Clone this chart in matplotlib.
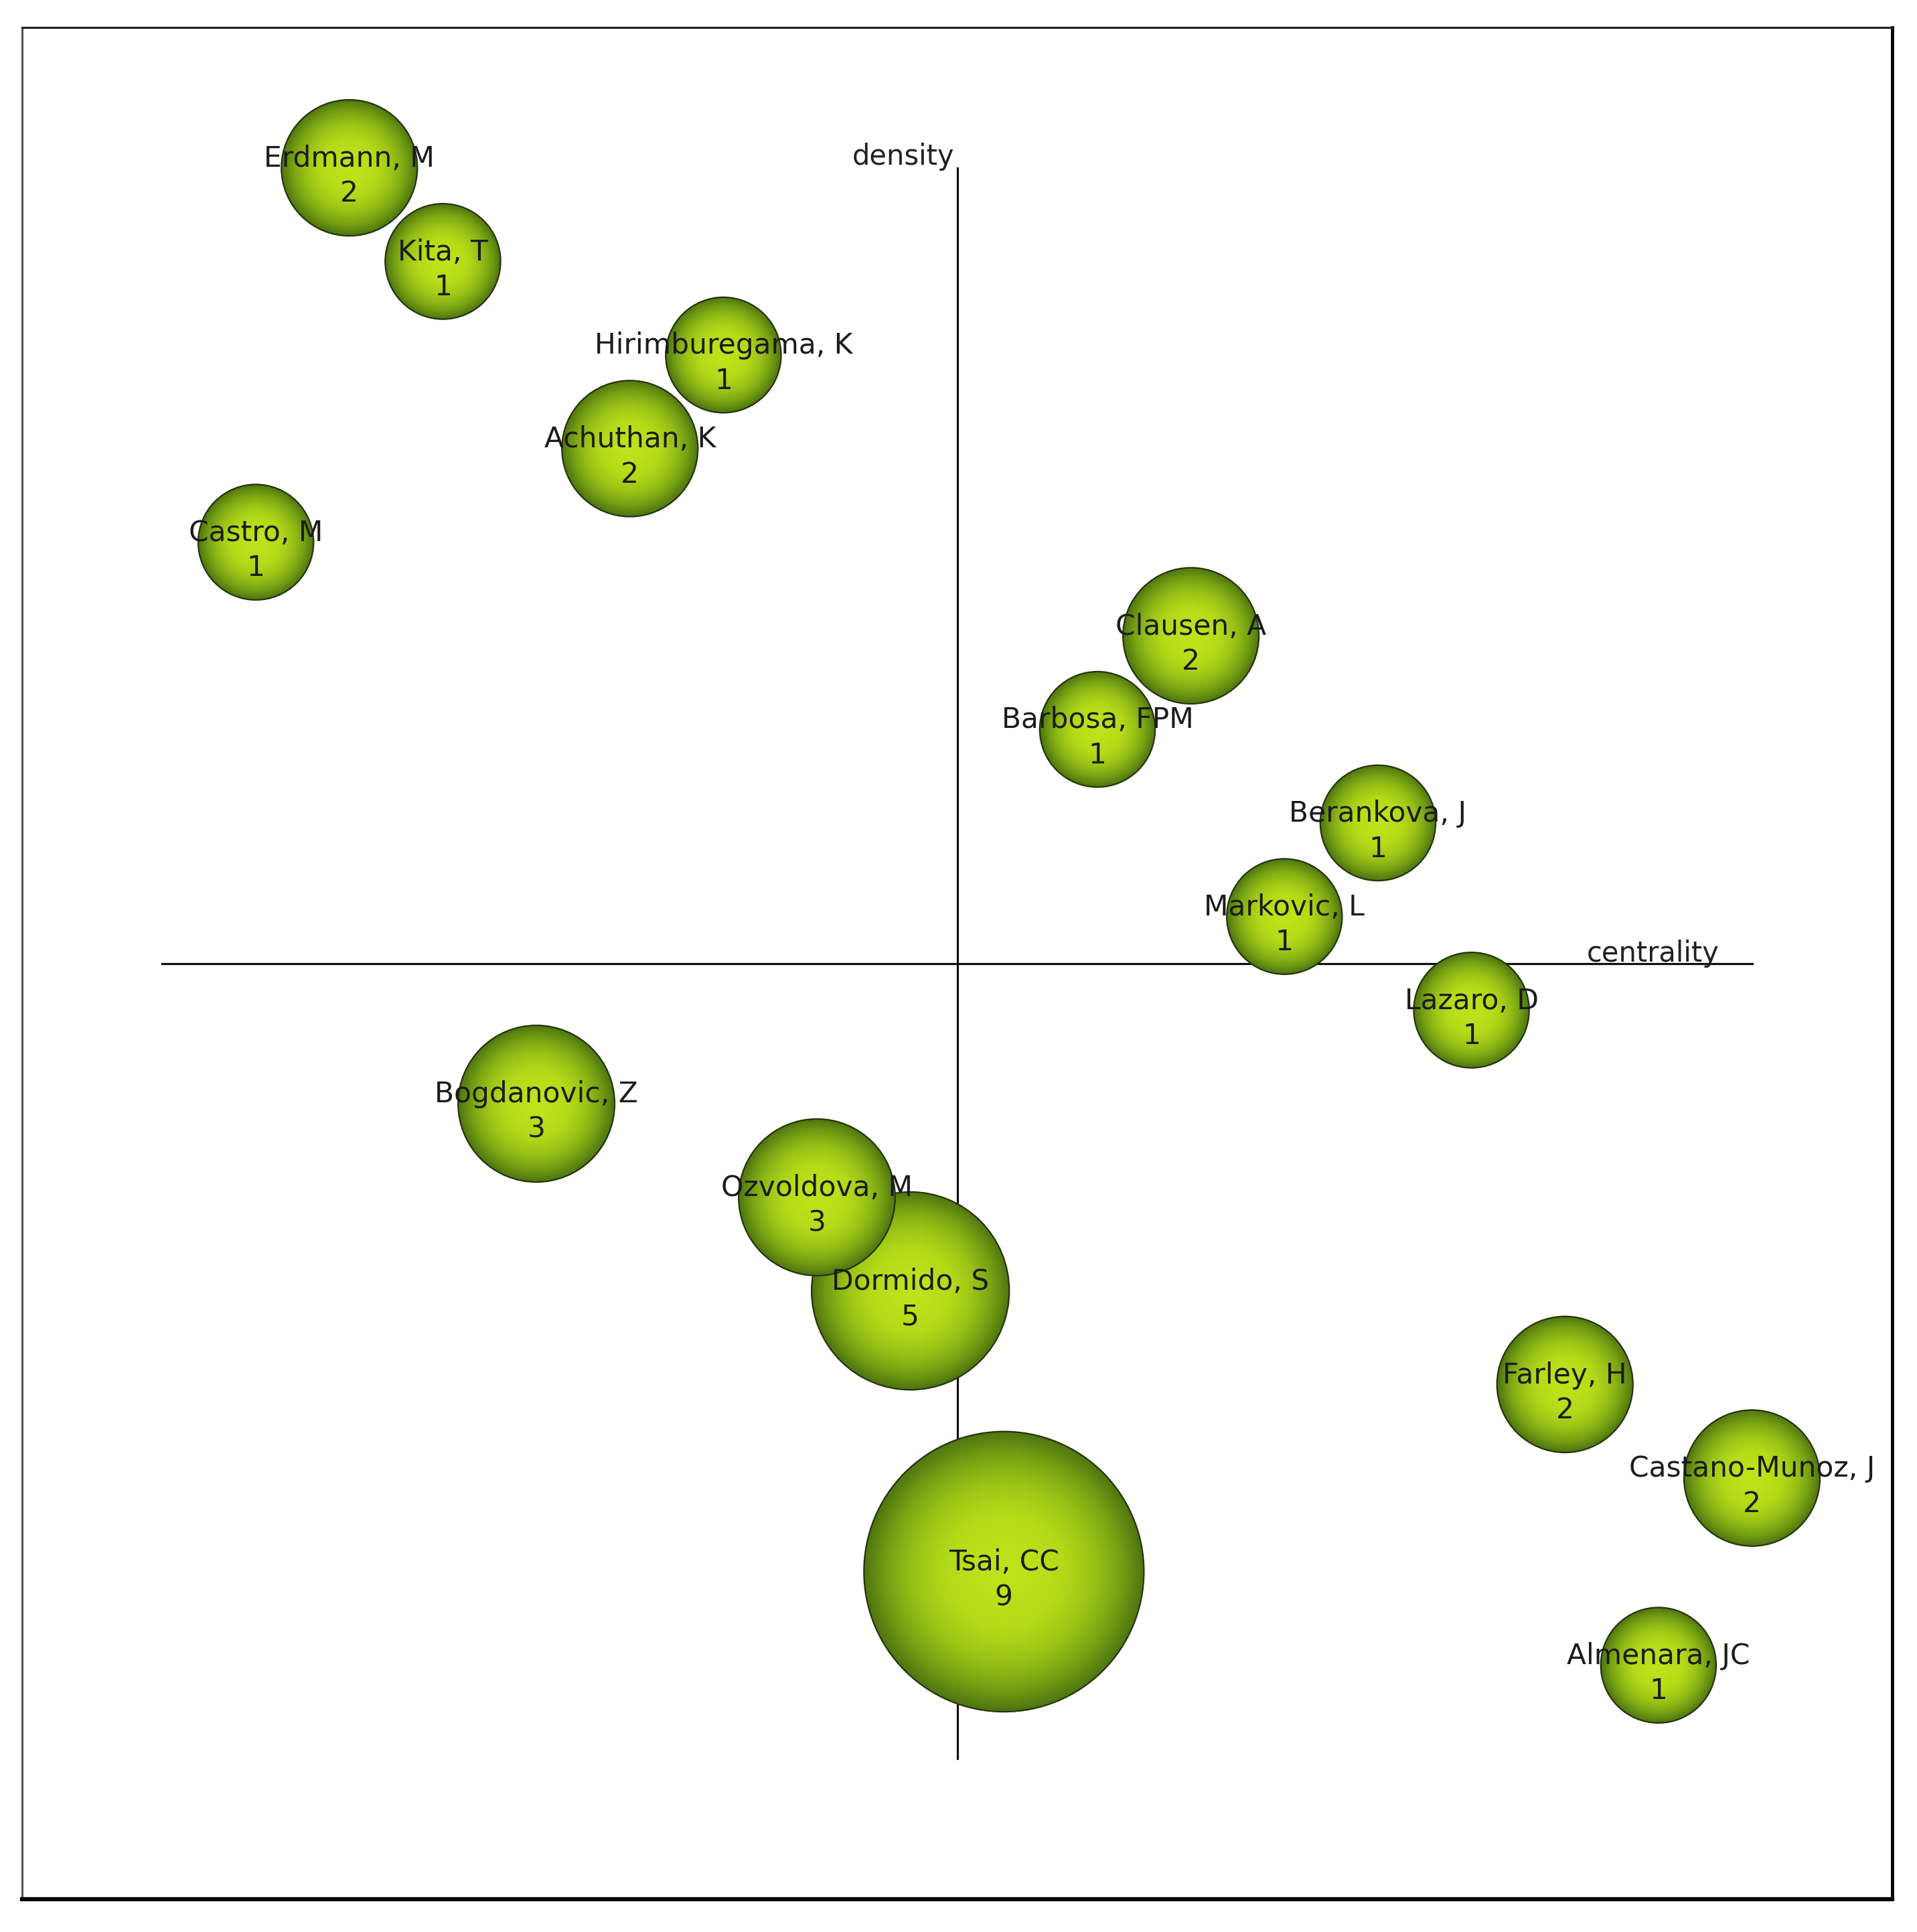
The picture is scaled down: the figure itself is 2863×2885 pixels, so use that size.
import numpy as np
import matplotlib.pyplot as plt
from matplotlib.patches import Circle
from matplotlib.colors import LinearSegmentedColormap

# author map: rank along centrality / density, number of documents
names = ["Erdmann, M", "Kita, T", "Hirimburegama, K", "Achuthan, K", "Castro, M",
         "Clausen, A", "Barbosa, FPM", "Berankova, J", "Markovic, L", "Lazaro, D",
         "Bogdanovic, Z", "Ozvoldova, M", "Dormido, S", "Farley, H",
         "Castano-Munoz, J", "Tsai, CC", "Almenara, JC"]
counts = [2, 1, 1, 2, 1, 2, 1, 1, 1, 1, 3, 3, 5, 2, 2, 9, 1]
centrality = [2, 3, 6, 5, 1, 11, 10, 13, 12, 14, 4, 7, 8, 15, 17, 9, 16]
density = [17, 16, 15, 14, 13, 12, 11, 10, 9, 8, 7, 6, 5, 4, 3, 2, 1]

fig = plt.figure(figsize=(28.63, 28.85), dpi=100)
ax = fig.add_axes([33/2863, 1-2836/2885, (2826-33)/2863, (2836-41)/2885])
ax.set_xlim(-1.5, 18.5)
ax.set_ylim(-1.5, 18.5)
ax.set_xticks([])
ax.set_yticks([])

ax.spines['top'].set_linewidth(2.2)
ax.spines['top'].set_color('#202020')
ax.spines['left'].set_linewidth(2.2)
ax.spines['left'].set_color('#555555')
ax.spines['right'].set_linewidth(3.5)
ax.spines['right'].set_color('#000000')
ax.spines['bottom'].set_linewidth(4.5)
ax.spines['bottom'].set_color('#000000')

# quadrant axes
ax.plot([0, 17], [8.5, 8.5], color='#111111', lw=2.3, zorder=1)
ax.plot([8.5, 8.5], [0, 17], color='#111111', lw=2.3, zorder=1)
ax.text(8.47, 17.03, "density", ha='right', va='baseline', fontsize=30, color='#222222')
ax.text(16.65, 8.52, "centrality", ha='right', va='baseline', fontsize=30, color='#222222')

cmap = LinearSegmentedColormap.from_list(
    "ball", ["#bfe31a", "#b3da18", "#98c116", "#76a013", "#4e7510"])
g = np.linspace(-1, 1, 300)
gx, gy = np.meshgrid(g, g)
grad = np.clip(np.sqrt(gx**2 + gy**2), 0, 1) ** 1.6

for i in range(len(names)):
    cx, cy, n = centrality[i], density[i], counts[i]
    r = 0.507 + 0.110 * n
    z = 10 - n * 0.5
    circ = Circle((cx, cy), r, facecolor='none', edgecolor='#26340e', lw=1.6, zorder=z + 0.1)
    ax.add_patch(circ)
    im = ax.imshow(grad, cmap=cmap, vmin=0, vmax=1, extent=(cx - r, cx + r, cy - r, cy + r),
                   origin='lower', aspect='auto', zorder=z, interpolation='bilinear')
    im.set_clip_path(circ)
    ax.text(cx, cy - 0.09, names[i] + "\n" + str(n), ha='center', va='center',
            multialignment='center', fontsize=30.5, color='#1c1c1c', zorder=20,
            linespacing=1.32)

ax.set_xlim(-1.5, 18.5)
ax.set_ylim(-1.5, 18.5)

fig.savefig("out.png", dpi=100)
